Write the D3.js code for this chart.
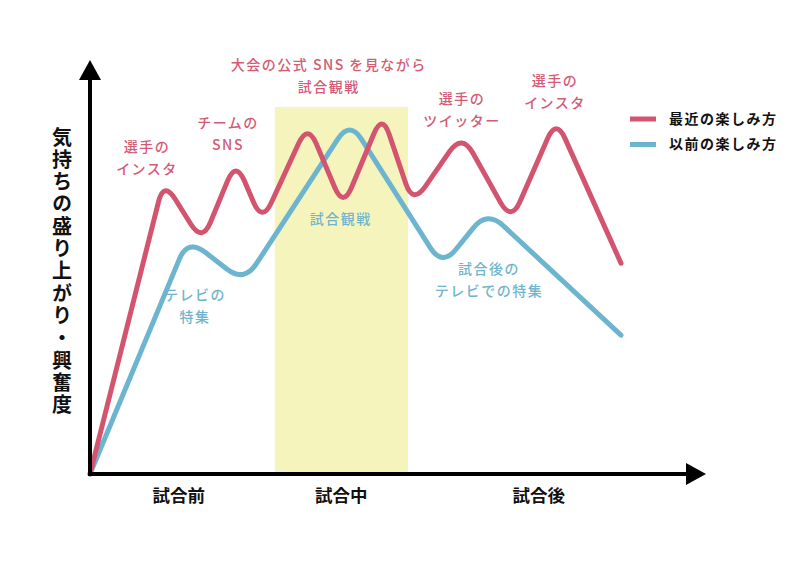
<!DOCTYPE html>
<html>
<head>
<meta charset="utf-8">
<script src="https://cdn.jsdelivr.net/npm/d3@7"></script>
<style>
  body { margin: 0; background: #fff; }
  text { font-family: 'Noto Sans CJK JP', 'Noto Sans', sans-serif; }
</style>
</head>
<body>
<div id="chart"></div>
<script>
// data
var redT = [0, 12.3, 18.7, 24.3, 28.7, 36.3, 42.2, 48.7, 53.8, 62, 70.2, 77.7, 88.5];
var redV = [0, 73.3, 57.9, 78.3, 62.9, 87.6, 66.6, 90.1, 67.4, 85.1, 63.1, 88.8, 52.7];
var blueT = [0, 16.3, 25.7, 43.3, 58.7, 66.2, 88.5];
var blueV = [0, 58.8, 47.9, 88.3, 51.9, 65.8, 34.7];

var phaseLabels = ['試合前', '試合中', '試合後'];
var phaseCenters = [14.7, 41.8, 74.7];
var matchSpan = [30.8, 53];   // 試合中 highlighted band

var legendLabels = ['最近の楽しみ方', '以前の楽しみ方'];
var yLabel = '気持ちの盛り上がり・興奮度';

// annotations: [text lines, x, y, series]
var notes = [
    [['選手の', 'インスタ'], 9.5, 80.5, 'red'],
    [['チームの', 'SNS'], 23, 86.5, 'red'],
    [['大会の公式 SNS を見ながら', '試合観戦'], 39.8, 101, 'red'],
    [['選手の', 'ツイッター'], 62, 92.5, 'red'],
    [['選手の', 'インスタ'], 77.5, 97, 'red'],
    [['試合観戦'], 41.8, 62.5, 'blue'],
    [['テレビの', '特集'], 17.5, 43.5, 'blue'],
    [['試合後の', 'テレビでの特集'], 66.5, 50, 'blue']
];

var colors = { red: '#d2546f', blue: '#6db5cf' };
var textColors = { red: '#d45b75', blue: '#72b4cc' };

var width = 800, height = 565;
var svg = d3.select('#chart').append('svg')
    .attr('width', width)
    .attr('height', height);

var x = d3.scaleLinear().domain([0, 100]).range([90, 690]);
var y = d3.scaleLinear().domain([0, 100]).range([474, 74]);

// straight segments with rounded corners
function roundedCurve(r) {
    return function (context) {
        var pts = [];
        return {
            areaStart: function () {},
            areaEnd: function () {},
            lineStart: function () { pts = []; },
            point: function (px, py) { pts.push([+px, +py]); },
            lineEnd: function () {
                var n = pts.length;
                if (!n) return;
                context.moveTo(pts[0][0], pts[0][1]);
                for (var i = 1; i < n - 1; i++) {
                    var p = pts[i - 1], c = pts[i], q = pts[i + 1];
                    var d1 = Math.hypot(c[0] - p[0], c[1] - p[1]);
                    var d2 = Math.hypot(q[0] - c[0], q[1] - c[1]);
                    var c1 = Math.min(r, d1 / 2), c2 = Math.min(r, d2 / 2);
                    var ax = c[0] - (c[0] - p[0]) * c1 / d1, ay = c[1] - (c[1] - p[1]) * c1 / d1;
                    var bx = c[0] + (q[0] - c[0]) * c2 / d2, by = c[1] + (q[1] - c[1]) * c2 / d2;
                    context.lineTo(ax, ay);
                    context.quadraticCurveTo(c[0], c[1], bx, by);
                }
                if (n > 1) context.lineTo(pts[n - 1][0], pts[n - 1][1]);
            }
        };
    };
}

// highlighted band
svg.append('rect')
    .attr('x', x(matchSpan[0]))
    .attr('y', 107)
    .attr('width', x(matchSpan[1]) - x(matchSpan[0]))
    .attr('height', y(0) - 107)
    .attr('fill', '#f6f4bd');

var line = d3.line()
    .x(function (d) { return x(d[0]); })
    .y(function (d) { return y(d[1]); })
    .curve(roundedCurve(22));

var series = [
    { key: 'blue', data: d3.zip(blueT, blueV) },
    { key: 'red', data: d3.zip(redT, redV) }
];

svg.selectAll('.series')
    .data(series)
    .enter()
    .append('path')
    .attr('class', 'series')
    .attr('d', function (d) { return line(d.data); })
    .attr('fill', 'none')
    .attr('stroke', function (d) { return colors[d.key]; })
    .attr('stroke-width', 5)
    .attr('stroke-linecap', 'round');

// annotations
notes.forEach(function (n) {
    var t = svg.append('text')
        .attr('text-anchor', 'middle')
        .attr('fill', textColors[n[3]])
        .style('font-size', '14px')
        .style('font-weight', 500)
        .style('letter-spacing', '1.5px');
    n[0].forEach(function (s, i) {
        t.append('tspan')
            .attr('x', x(n[1]))
            .attr('y', y(n[2]) + i * 22)
            .text(s);
    });
});

// axes
var ax = svg.append('g');
ax.append('line')
    .attr('x1', x(0)).attr('x2', x(0))
    .attr('y1', y(0) + 2).attr('y2', 78)
    .attr('stroke', '#000').attr('stroke-width', 4);
ax.append('path')
    .attr('d', 'M' + x(0) + ',60 L' + (x(0) - 11) + ',80 L' + (x(0) + 11) + ',80 Z')
    .attr('fill', '#000');
ax.append('line')
    .attr('x1', x(0) - 2).attr('x2', 688)
    .attr('y1', y(0)).attr('y2', y(0))
    .attr('stroke', '#000').attr('stroke-width', 4);
ax.append('path')
    .attr('d', 'M706,' + y(0) + ' L686,' + (y(0) - 11) + ' L686,' + (y(0) + 11) + ' Z')
    .attr('fill', '#000');

// phase labels
var xAxis = d3.axisBottom(x)
    .tickValues(phaseCenters)
    .tickFormat(function (d, i) { return phaseLabels[i]; })
    .tickSize(0)
    .tickPadding(16);
var gx = svg.append('g')
    .attr('transform', 'translate(0,' + y(0) + ')')
    .call(xAxis);
gx.select('.domain').remove();
gx.selectAll('text')
    .attr('fill', '#111')
    .style('font-size', '17.5px')
    .style('font-weight', 'bold')
    .style('font-family', "'Noto Sans CJK JP', sans-serif");

// y label, set vertically
svg.append('text')
    .attr('x', 62)
    .attr('y', 127)
    .attr('fill', '#111')
    .style('writing-mode', 'vertical-rl')
    .style('font-size', '20px')
    .style('font-weight', 'bold')
    .style('letter-spacing', '2.3px')
    .text(yLabel);

// legend
var lg = svg.selectAll('.legend')
    .data(legendLabels)
    .enter()
    .append('g')
    .attr('class', 'legend')
    .attr('transform', function (d, i) { return 'translate(630,' + (119 + i * 25.5) + ')'; });
lg.append('line')
    .attr('x1', 0).attr('x2', 26)
    .attr('stroke', function (d, i) { return i === 0 ? colors.red : colors.blue; })
    .attr('stroke-width', 5);
lg.append('text')
    .attr('x', 39)
    .attr('dy', '0.35em')
    .attr('fill', '#111')
    .style('font-size', '14px')
    .style('font-weight', 'bold')
    .style('letter-spacing', '1.5px')
    .text(function (d) { return d; });
</script>
</body>
</html>
